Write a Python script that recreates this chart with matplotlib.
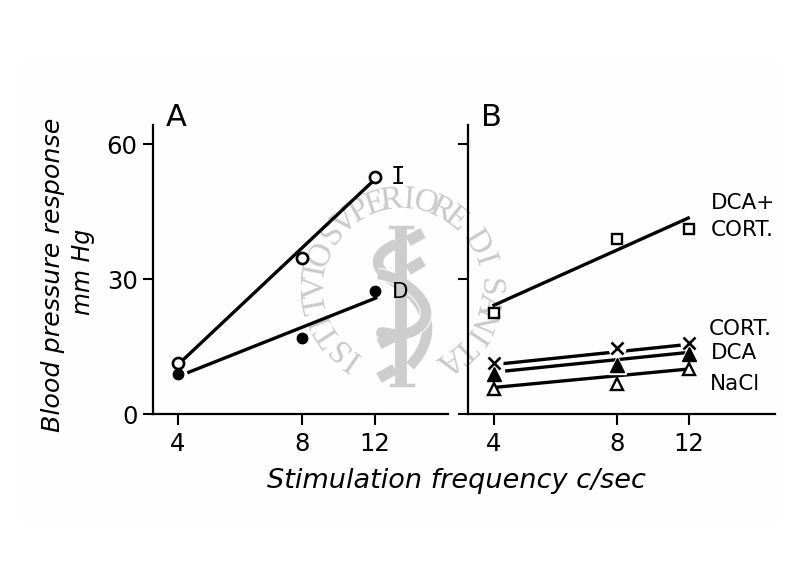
import numpy as np
import matplotlib
matplotlib.use("Agg")
import matplotlib.pyplot as plt
from matplotlib.patches import PathPatch, Rectangle
from matplotlib.path import Path
from matplotlib.ticker import FixedLocator, NullLocator

freq = [4, 8, 12]

# panel A
open_circle = [11.4, 34.8, 52.7]
filled_circle = [8.9, 16.9, 27.4]
line_I_x = [4.11, 11.8]
line_I_y = [12.0, 51.6]
line_D_x = [4.25, 12.05]
line_D_y = [9.3, 25.8]

# panel B
squares = [22.5, 38.9, 41.1]
crosses = [11.4, 14.6, 15.8]
filled_tri = [8.9, 11.0, 13.3]
open_tri = [5.5, 6.6, 10.0]
line_sq_x = [4.0, 11.95]
line_sq_y = [24.2, 43.6]
line_cross_x = [4.2, 11.7]
line_cross_y = [11.2, 15.4]
line_ftri_x = [4.3, 11.95]
line_ftri_y = [9.6, 13.7]
line_otri_x = [4.1, 11.95]
line_otri_y = [6.0, 10.0]

yticks = [0, 30, 60]
xticks = [4, 8, 12]

# watermark words with the angle range each covers (clockwise from top)
wm_words = ["ISTITVTO", "SVPERIORE", "DI", "SANITA"]
wm_start = [-145, -52, 59, 90]
wm_end = [-68, 38, 72, 147]

fig = plt.figure(figsize=(8, 5.78), dpi=100)
plt.rcParams['font.family'] = 'DejaVu Sans'

# scan background and watermark sit behind both panels, in pixel coords
bg = fig.add_axes([0, 0, 1, 1], zorder=-1)
bg.set_xlim(0, 800)
bg.set_ylim(578, 0)
bg.axis('off')
bg.add_patch(Rectangle((22, 60), 756, 465, fc='#fefefe', ec='none'))

grey = '#cdcdcd'
cx, cy, r = 402, 287, 87
for word, a0, a1 in zip(wm_words, wm_start, wm_end):
    for ch, a in zip(word, np.linspace(a0, a1, len(word))):
        t = np.radians(a)
        bg.text(cx + r * np.sin(t), cy - r * np.cos(t), ch, family='Liberation Serif',
                fontsize=24, color='#cacaca', rotation=-a, ha='center', va='center')

# emblem: rod, cross bars, two snakes
bg.plot([401, 401], [227, 385], color=grey, lw=8.5, solid_capstyle='butt')
bg.plot([390, 412], [227, 227], color=grey, lw=2.5)
bg.plot([391, 413], [385, 385], color=grey, lw=2.5)
for x0, y0, x1, y1 in [(408, 241, 423, 233), (408, 270, 423, 261),
                       (379, 344, 395, 336), (379, 378, 395, 369)]:
    bg.plot([x0, x1], [y0, y1], color=grey, lw=8, solid_capstyle='butt')


def snake(pts):
    codes = [Path.MOVETO] + [Path.CURVE4] * (len(pts) - 1)
    bg.add_patch(PathPatch(Path(pts, codes), fc='none', ec='white', lw=9, capstyle='butt'))
    bg.add_patch(PathPatch(Path(pts, codes), fc='none', ec=grey, lw=7.5, capstyle='butt'))


snake([(396, 244), (368, 256), (376, 272), (398, 284), (424, 300), (442, 332), (410, 366)])
snake([(378, 274), (408, 278), (442, 310), (418, 328), (398, 344), (368, 322), (388, 340)])

axA = fig.add_axes([153 / 800, 1 - 414 / 578, 295 / 800, 289 / 578])
axB = fig.add_axes([468 / 800, 1 - 414 / 578, 307 / 800, 289 / 578])

for ax in [axA, axB]:
    ax.patch.set_alpha(0)
    ax.set_xscale('log')
    ax.set_ylim(0, 64.3)
    ax.spines['top'].set_visible(False)
    ax.spines['right'].set_visible(False)
    ax.spines['left'].set_linewidth(1.6)
    ax.spines['bottom'].set_linewidth(1.6)
    ax.yaxis.set_major_locator(FixedLocator(yticks))
    ax.xaxis.set_major_locator(FixedLocator(xticks))
    ax.xaxis.set_minor_locator(NullLocator())
    ax.set_xticklabels([str(v) for v in xticks])
    ax.tick_params(axis='y', length=7.5, width=1.5, labelsize=17.5, pad=3.5)
    ax.tick_params(axis='x', length=8, width=1.5, labelsize=17.5, pad=5)

axA.set_xlim(4 * 3 ** (-25 / 197), 4 * 3 ** (270 / 197))
axB.set_xlim(4 * 3 ** (-26 / 195), 4 * 3 ** (281 / 195))
axA.set_yticklabels([str(v) for v in yticks])
axB.set_yticklabels([])

lw = 2.4
axA.plot(line_I_x, line_I_y, color='k', lw=lw)
axA.plot(line_D_x, line_D_y, color='k', lw=lw)
axA.plot(freq, open_circle, 'o', ms=8, mfc='white', mec='k', mew=1.9, ls='none', zorder=3)
axA.plot(freq, filled_circle, 'o', ms=7.5, color='k', ls='none', zorder=2.5)

axB.plot(line_sq_x, line_sq_y, color='k', lw=lw)
axB.plot(line_cross_x, line_cross_y, color='k', lw=lw)
axB.plot(line_ftri_x, line_ftri_y, color='k', lw=lw)
axB.plot(line_otri_x, line_otri_y, color='k', lw=lw)
axB.plot(freq, squares, 's', ms=7.5, mfc='white', mec='k', mew=1.7, ls='none', zorder=3)
axB.plot(freq, crosses, 'o', ms=12, color='white', ls='none', zorder=2.6)
axB.plot(freq, crosses, 'x', ms=9, color='k', mew=1.9, ls='none', zorder=3)
axB.plot(freq, filled_tri, '^', ms=13, color='white', ls='none', zorder=2.8)
axB.plot(freq, filled_tri, '^', ms=10, color='k', ls='none', zorder=3)
axB.plot(freq, open_tri, '^', ms=9, mfc='white', mec='k', mew=1.7, ls='none', zorder=3)

fig.text(166 / 800, 1 - 118 / 578, 'A', fontsize=22, va='center', ha='left')
fig.text(481 / 800, 1 - 118 / 578, 'B', fontsize=22, va='center', ha='left')
fig.text(391 / 800, 1 - 177 / 578, 'I', fontsize=17, family='DejaVu Sans Mono', va='center', ha='left')
fig.text(392 / 800, 1 - 292 / 578, 'D', fontsize=15.5, va='center', ha='left')

for label, x, y in [('DCA+', 711, 203), ('CORT.', 711, 230), ('CORT.', 709, 329),
                    ('DCA', 711, 353), ('NaCl', 710, 384)]:
    fig.text(x / 800, 1 - y / 578, label, fontsize=15.5, va='center', ha='left')

fig.text(456 / 800, 1 - 481 / 578, 'Stimulation frequency c/sec', fontsize=19.5, style='italic',
         ha='center', va='center')
fig.text(53 / 800, 1 - 275 / 578, 'Blood pressure response', fontsize=18.3, style='italic',
         rotation=90, ha='center', va='center')
fig.text(83 / 800, 1 - 272 / 578, 'mm Hg', fontsize=17, style='italic',
         rotation=90, ha='center', va='center')

fig.savefig('out.png', dpi=100)
